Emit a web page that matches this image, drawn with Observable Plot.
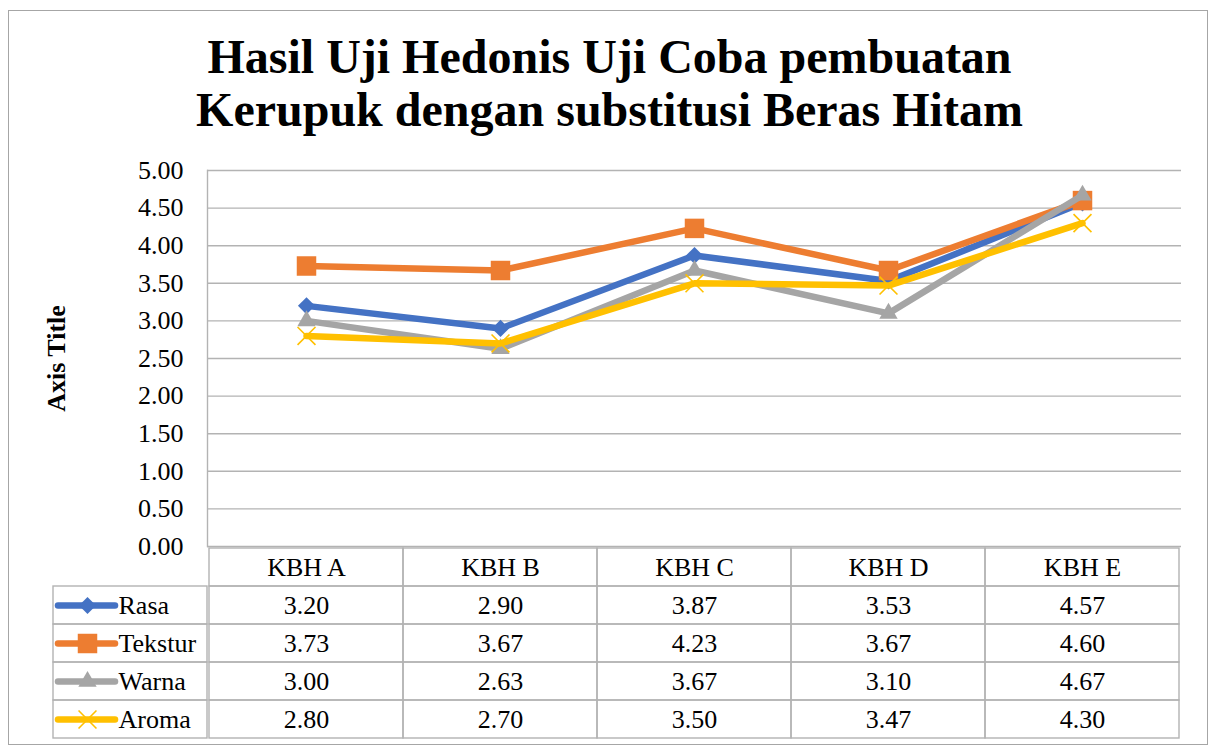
<!DOCTYPE html>
<html>
<head>
<meta charset="utf-8">
<script src="https://cdn.jsdelivr.net/npm/d3@7"></script>
<script src="https://cdn.jsdelivr.net/npm/@observablehq/plot@0.6"></script>
<style>
  html, body { margin: 0; padding: 0; background: #fff; }
  #wrap { position: relative; width: 1212px; height: 747px; overflow: hidden; font-family: "Liberation Serif", "Times New Roman", serif; }
  #wrap svg, #wrap svg text { font-family: "Liberation Serif", "Times New Roman", serif !important; }
  #border { position: absolute; left: 8px; top: 10px; width: 1200px; height: 735px; box-sizing: border-box; border: 1.5px solid #a6a6a6; }
  #title { position: absolute; left: 0; top: 30px; width: 1219px; text-align: center; font-weight: bold; font-size: 48px; line-height: 53px; color: #000; }
  #chart, #table { position: absolute; left: 0; }
  #chart { top: 0; }
  #table { top: 546px; }
</style>
</head>
<body>
<div id="wrap">
  <div id="border"></div>
  <div id="title">Hasil Uji Hedonis Uji Coba pembuatan<br>Kerupuk dengan substitusi Beras Hitam</div>
  <div id="chart"></div>
  <div id="table"></div>
</div>
<script>
// ---- data ----
const categories = ["KBH A", "KBH B", "KBH C", "KBH D", "KBH E"];
const seriesNames = ["Rasa", "Tekstur", "Warna", "Aroma"];
const rasa    = [3.20, 2.90, 3.87, 3.53, 4.57];
const tekstur = [3.73, 3.67, 4.23, 3.67, 4.60];
const warna   = [3.00, 2.63, 3.67, 3.10, 4.67];
const aroma   = [2.80, 2.70, 3.50, 3.47, 4.30];
const yTicks  = [0, 0.5, 1, 1.5, 2, 2.5, 3, 3.5, 4, 4.5, 5];
const axisTitle = "Axis Title";

// ---- styles ----
const seriesColors = ["#4472C4", "#ED7D31", "#A5A5A5", "#FFC000"];
const seriesSymbols = ["diamond2", "square", "triangle", "times"];
const seriesR = [7.7, 11, 6.8, 8.2];
const gridColor = "#b3b3b3";

const valuesBySeries = [rasa, tekstur, warna, aroma];
const rows = seriesNames.flatMap((s, si) =>
  categories.map((c, ci) => ({series: s, cat: c, value: valuesBySeries[si][ci]})));

const W = 1212, ML = 207, MR = 31;
const frameW = W - ML - MR;
const font = {fontFamily: "'Liberation Serif', 'Times New Roman', serif", fontSize: "26px", background: "transparent", color: "#000", overflow: "visible"};

// ---- chart ----
const seriesMarks = seriesNames.flatMap((s, i) => {
  const data = rows.filter(d => d.series === s);
  const isTimes = seriesSymbols[i] === "times";
  return [
    Plot.line(data, {x: "cat", y: "value", stroke: seriesColors[i], strokeWidth: 6.5, strokeLinejoin: "round", strokeLinecap: "round"}),
    Plot.dot(data, {x: "cat", y: "value", symbol: () => seriesSymbols[i], r: seriesR[i],
      fill: isTimes ? "none" : seriesColors[i], stroke: isTimes ? seriesColors[i] : "none", strokeWidth: isTimes ? 1.6 : 0})
  ];
});

const chart = Plot.plot({
  width: W, height: 560,
  marginTop: 170, marginBottom: 14, marginLeft: ML, marginRight: MR,
  style: font,
  x: {type: "band", domain: categories, padding: 0, axis: null},
  y: {domain: [0, 5]},
  marks: [
    Plot.ruleY(yTicks, {stroke: gridColor, strokeWidth: 1.4}),
    Plot.frame({anchor: "left", stroke: gridColor, strokeWidth: 1.4}),
    Plot.axisY({ticks: yTicks, tickFormat: d3.format(".2f"), tickSize: 0, tickPadding: 24, label: null, fontSize: 26}),
    Plot.text([axisTitle], {frameAnchor: "left", dx: -151, rotate: -90, textAnchor: "middle", lineAnchor: "middle", fontWeight: "bold", fontSize: 26, text: d => d}),
    ...seriesMarks
  ]
});
document.getElementById("chart").append(chart);

// ---- data table ----
const headerKey = " ";
const table = Plot.plot({
  width: W, height: 200,
  marginTop: 1, marginBottom: 8, marginLeft: ML, marginRight: MR,
  style: font,
  x: {type: "band", domain: categories, padding: 0, axis: null},
  y: {type: "band", domain: [headerKey, ...seriesNames], padding: 0, axis: null},
  marks: [
    Plot.cell(categories, {x: d => d, y: () => headerKey, stroke: gridColor, strokeWidth: 1.4, fill: "none", inset: 0}),
    Plot.cell(rows, {x: "cat", y: "series", stroke: gridColor, strokeWidth: 1.4, fill: "none", inset: 0}),
    Plot.cell(seriesNames, {y: d => d, insetLeft: -154, insetRight: frameW, insetTop: 0, insetBottom: 0, stroke: gridColor, strokeWidth: 1.4, fill: "none"}),
    Plot.text(categories, {x: d => d, y: () => headerKey, text: d => d, fontSize: 26}),
    Plot.text(rows, {x: "cat", y: "series", text: d => d.value.toFixed(2), fontSize: 26}),
    ...seriesNames.flatMap((s, i) => {
      const isTimes = seriesSymbols[i] === "times";
      return [
        Plot.ruleY([s], {y: d => d, insetLeft: -149, insetRight: frameW + 92, stroke: seriesColors[i], strokeWidth: 6.5, strokeLinecap: "round"}),
        Plot.dot([s], {y: d => d, frameAnchor: "left", dx: -120, symbol: () => seriesSymbols[i], r: seriesR[i],
          fill: isTimes ? "none" : seriesColors[i], stroke: isTimes ? seriesColors[i] : "none", strokeWidth: isTimes ? 1.6 : 0}),
        Plot.text([s], {y: d => d, frameAnchor: "left", dx: -89, textAnchor: "start", text: d => d, fontSize: 26})
      ];
    })
  ]
});
document.getElementById("table").append(table);
</script>
</body>
</html>
